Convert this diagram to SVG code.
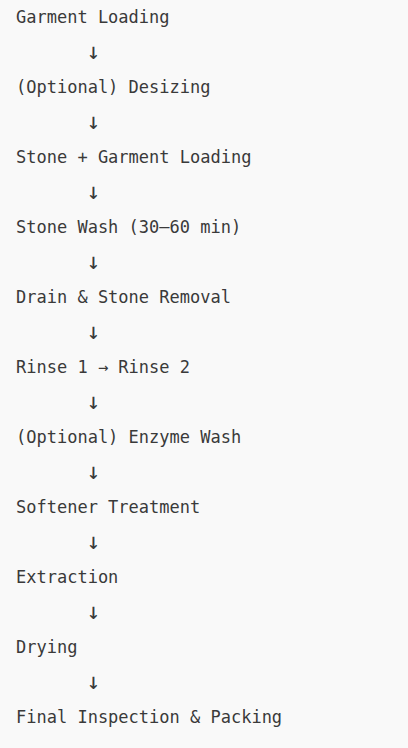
<svg xmlns="http://www.w3.org/2000/svg" width="408" height="748" viewBox="0 0 408 748">
<style>
text{font-family:"DejaVu Sans Mono","Liberation Mono",monospace;font-size:17px;fill:#3a3a3a;white-space:pre}
.a{font-family:"DejaVu Sans Mono",monospace;font-size:23px;text-anchor:middle}
</style>
<rect width="408" height="748" fill="#f9f9f9"/>
<g id="n1"><text x="16" y="23">Garment Loading</text></g>
<g id="n2"><text x="16" y="93">(Optional) Desizing</text></g>
<g id="n3"><text x="16" y="163">Stone + Garment Loading</text></g>
<g id="n4"><text x="16" y="233">Stone Wash (30–60 min)</text></g>
<g id="n5"><text x="16" y="303">Drain &amp; Stone Removal</text></g>
<g id="n6"><text x="16" y="373">Rinse 1 → Rinse 2</text></g>
<g id="n7"><text x="16" y="443">(Optional) Enzyme Wash</text></g>
<g id="n8"><text x="16" y="513">Softener Treatment</text></g>
<g id="n9"><text x="16" y="583">Extraction</text></g>
<g id="n10"><text x="16" y="653">Drying</text></g>
<g id="n11"><text x="16" y="723">Final Inspection &amp; Packing</text></g>
<g id="connectors">
<text class="a" x="93.5" y="59">↓</text>
<text class="a" x="93.5" y="129">↓</text>
<text class="a" x="93.5" y="199">↓</text>
<text class="a" x="93.5" y="269">↓</text>
<text class="a" x="93.5" y="339">↓</text>
<text class="a" x="93.5" y="409">↓</text>
<text class="a" x="93.5" y="479">↓</text>
<text class="a" x="93.5" y="549">↓</text>
<text class="a" x="93.5" y="619">↓</text>
<text class="a" x="93.5" y="689">↓</text>
</g>
</svg>
